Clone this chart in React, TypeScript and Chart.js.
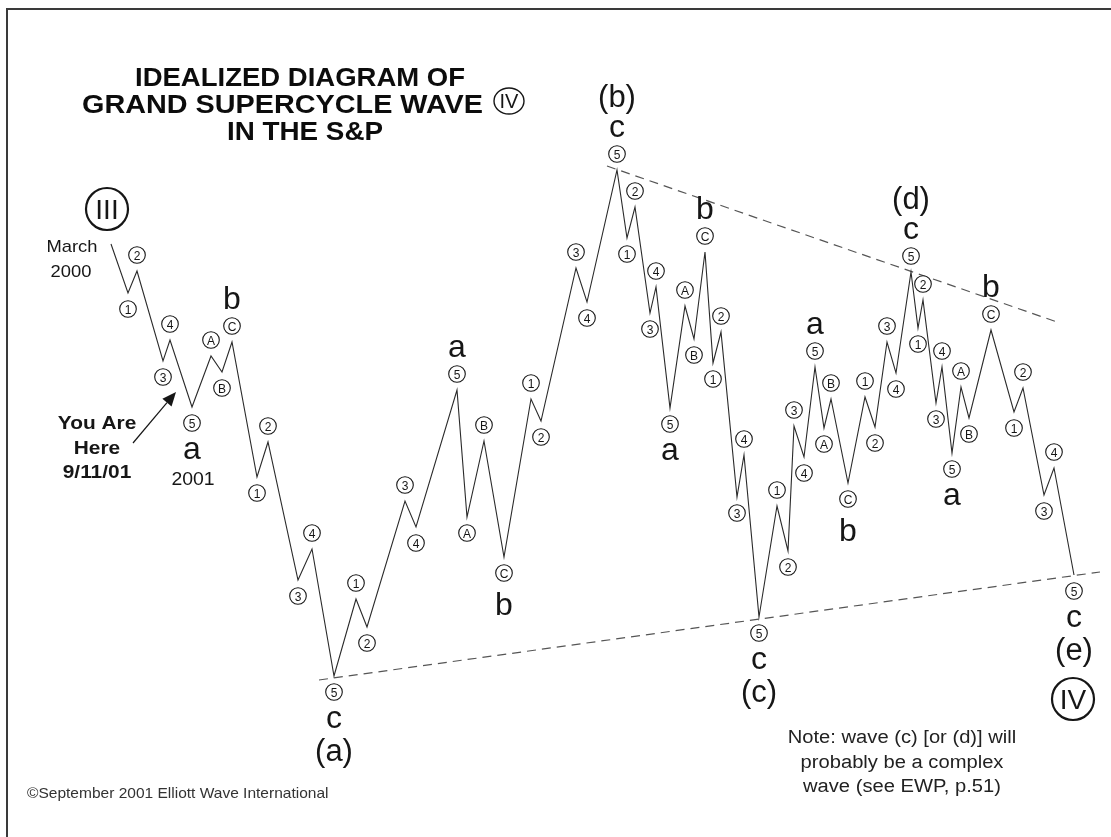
import React, { useEffect, useRef } from "react";
import { Chart, registerables } from "chart.js";

Chart.register(...registerables);

// Idealized wave path: time units (x) and index level (y)
const waveX = [
  11.1, 12.8, 13.7, 16.3, 17.0, 19.2, 21.1, 22.2, 23.2, 25.7, 26.8, 29.8, 31.2, 33.4,
  35.6, 36.7, 40.5, 41.6, 45.7, 46.7, 48.4, 50.4, 53.1, 54.1, 57.6, 58.7, 61.7,
  62.7, 63.5, 65.0, 65.6, 67.0, 68.5, 69.4, 70.5, 71.3, 72.1, 73.7, 74.4, 75.9,
  77.7, 78.8, 79.4, 80.4, 81.5, 82.4, 83.1, 84.8, 86.5, 87.5, 88.7, 89.6, 91.1,
  91.8, 92.3, 93.6, 94.2, 95.2, 96.1, 96.9, 99.1, 101.4, 102.3, 104.4, 105.4, 107.4,
];
const waveY = [
  59.3, 54.4, 56.6, 47.6, 49.7, 43.0, 48.1, 46.5, 49.5, 36.0, 39.5, 25.7, 28.8, 16.1,
  23.8, 21.0, 33.6, 31.0, 44.7, 32.0, 39.6, 28.0, 43.8, 41.6, 56.9, 53.5, 66.7,
  59.9, 63.0, 52.4, 55.0, 42.9, 53.1, 49.8, 58.5, 47.4, 50.5, 34.0, 38.2, 22.0,
  33.1, 28.6, 41.1, 38.0, 47.0, 40.9, 43.8, 35.4, 44.0, 41.0, 49.5, 46.4, 56.5,
  50.9, 53.7, 43.4, 47.0, 38.4, 45.0, 41.9, 50.7, 42.5, 44.9, 34.2, 36.9, 26.2,
];
const minorLabels = [
  "", "1", "2", "3", "4", "5", "A", "B", "C", "1", "2", "3", "4", "5",
  "1", "2", "3", "4", "5", "A", "B", "C", "1", "2", "3", "4", "5",
  "1", "2", "3", "4", "5", "A", "B", "C", "1", "2", "3", "4", "5",
  "1", "2", "3", "4", "5", "A", "B", "C", "1", "2", "3", "4", "5",
  "1", "2", "3", "4", "5", "A", "B", "C", "1", "2", "3", "4", "5",
];
const degreeLabels = [
  "", "", "", "", "", "a", "", "", "b", "", "", "", "", "c",
  "", "", "", "", "a", "", "", "b", "", "", "", "", "c",
  "", "", "", "", "a", "", "", "b", "", "", "", "", "c",
  "", "", "", "", "a", "", "", "b", "", "", "", "", "c",
  "", "", "", "", "a", "", "", "b", "", "", "", "", "c",
];
const primaryLabels = [
  "", "", "", "", "", "", "", "", "", "", "", "", "", "(a)",
  "", "", "", "", "", "", "", "", "", "", "", "", "(b)",
  "", "", "", "", "", "", "", "", "", "", "", "", "(c)",
  "", "", "", "", "", "", "", "", "", "", "", "", "(d)",
  "", "", "", "", "", "", "", "", "", "", "", "", "(e)",
];
const majorStart = "III";
const majorEnd = "IV";

// Trendlines of the triangle
const upperTrendX = [60.7, 106.0];
const upperTrendY = [67.1, 51.4];
const lowerTrendX = [31.9, 110.0];
const lowerTrendY = [15.7, 26.5];

const titleLines = ["IDEALIZED DIAGRAM OF", "GRAND SUPERCYCLE WAVE", "IN THE S&P"];
const noteLines = ["Note: wave (c) [or (d)] will", "probably be a complex", "wave (see EWP, p.51)"];
const hereLines = ["You Are", "Here", "9/11/01"];
const copyright = "\u00A9September 2001 Elliott Wave International";

const FONT = "'Liberation Sans', Arial, Helvetica, sans-serif";
const NARROW = "'Liberation Sans Narrow', 'Liberation Sans', Arial, sans-serif";
const INK = "#161616";

function stretchText(ctx: CanvasRenderingContext2D, text: string, x: number, base: number, sx: number, font: string, align: CanvasTextAlign) {
  ctx.font = font;
  ctx.save();
  ctx.translate(x, base);
  ctx.scale(sx, 1);
  ctx.textAlign = align;
  ctx.textBaseline = "alphabetic";
  ctx.fillText(text, 0, 0);
  ctx.restore();
}

function fitText(ctx: CanvasRenderingContext2D, text: string, cx: number, base: number, width: number, font: string) {
  ctx.font = font;
  const w = ctx.measureText(text).width;
  stretchText(ctx, text, cx, base, width / w, font, "center");
}

function circled(ctx: CanvasRenderingContext2D, cx: number, cy: number, r: number, text: string, font: string, lw: number) {
  ctx.beginPath();
  ctx.arc(cx, cy, r, 0, Math.PI * 2);
  ctx.fillStyle = "#fff";
  ctx.fill();
  ctx.lineWidth = lw;
  ctx.strokeStyle = INK;
  ctx.stroke();
  ctx.fillStyle = INK;
  ctx.font = font;
  ctx.textAlign = "center";
  ctx.textBaseline = "alphabetic";
  const m = ctx.measureText(text);
  const h = m.actualBoundingBoxAscent - m.actualBoundingBoxDescent;
  ctx.fillText(text, cx, cy + h / 2);
}

const annotate = {
  id: "annotate",
  afterDraw(chart: any) {
    const ctx: CanvasRenderingContext2D = chart.ctx;
    const xs = chart.scales.x;
    const ys = chart.scales.y;
    ctx.save();
    // frame
    ctx.strokeStyle = "#3a3a3a";
    ctx.lineWidth = 2;
    ctx.beginPath();
    ctx.moveTo(7, chart.height + 5);
    ctx.lineTo(7, 9);
    ctx.lineTo(chart.width + 5, 9);
    ctx.stroke();

    const n = waveX.length;
    for (let i = 0; i < n; i++) {
      const px = xs.getPixelForValue(waveX[i]);
      const py = ys.getPixelForValue(waveY[i]);
      const prev = i > 0 ? waveY[i - 1] : -Infinity;
      const next = i < n - 1 ? waveY[i + 1] : -Infinity;
      const peak = waveY[i] > prev && waveY[i] > next || (i === 0 && waveY[i] > next);
      const dir = peak ? -1 : 1;
      if (minorLabels[i]) {
        circled(ctx, px, py + dir * 16, 8.3, minorLabels[i], `12px ${FONT}`, 1.1);
      }
      ctx.fillStyle = INK;
      ctx.textAlign = "center";
      ctx.textBaseline = "alphabetic";
      if (degreeLabels[i]) {
        ctx.font = `32px ${FONT}`;
        const m = ctx.measureText(degreeLabels[i]);
        const base = peak ? py - 33 - m.actualBoundingBoxDescent : py + 35 + m.actualBoundingBoxAscent;
        ctx.fillText(degreeLabels[i], px, base);
      }
      if (primaryLabels[i]) {
        ctx.font = `31px ${FONT}`;
        const m = ctx.measureText(primaryLabels[i]);
        const base = peak ? py - 56 - m.actualBoundingBoxDescent : py + 62 + m.actualBoundingBoxAscent;
        ctx.fillText(primaryLabels[i], px, base);
      }
      if (i === 0) {
        circled(ctx, px - 4, py - 35, 21, majorStart, `28px ${NARROW}`, 2.2);
        ctx.fillStyle = INK;
        stretchText(ctx, "March", px - 39, py + 8, 1.08, `17px ${FONT}`, "center");
        stretchText(ctx, "2000", px - 40, py + 33, 1.08, `17px ${FONT}`, "center");
      }
      if (i === n - 1) {
        circled(ctx, px - 1, py + 124, 21, majorEnd, `28px ${NARROW}`, 2.2);
      }
      if (i === 5) {
        ctx.fillStyle = INK;
        stretchText(ctx, "2001", px + 1, py + 78, 1.08, `18px ${FONT}`, "center");
      }
    }

    // title
    ctx.fillStyle = "#0c0c0c";
    fitText(ctx, titleLines[0], 300, 86, 330, `bold 26px ${FONT}`);
    fitText(ctx, titleLines[1], 282.5, 113, 401, `bold 26px ${FONT}`);
    fitText(ctx, titleLines[2], 305, 140, 156, `bold 26px ${FONT}`);
    ctx.beginPath();
    ctx.ellipse(509, 101, 15, 13, 0, 0, Math.PI * 2);
    ctx.lineWidth = 1.4;
    ctx.strokeStyle = INK;
    ctx.stroke();
    ctx.fillStyle = INK;
    ctx.font = `20px ${NARROW}`;
    ctx.textAlign = "center";
    ctx.fillText("IV", 509, 108);

    // You are here
    ctx.fillStyle = INK;
    stretchText(ctx, hereLines[0], 97, 429, 1.16, `bold 18px ${FONT}`, "center");
    stretchText(ctx, hereLines[1], 97, 454, 1.16, `bold 18px ${FONT}`, "center");
    stretchText(ctx, hereLines[2], 97, 478, 1.16, `bold 18px ${FONT}`, "center");
    const tx = 133, ty = 443, hx = 176, hy = 392;
    const ang = Math.atan2(hy - ty, hx - tx);
    const hl = 14, hw = 6;
    const bx = hx - hl * Math.cos(ang), by = hy - hl * Math.sin(ang);
    ctx.strokeStyle = INK;
    ctx.beginPath();
    ctx.moveTo(tx, ty);
    ctx.lineTo(bx, by);
    ctx.lineWidth = 1.2;
    ctx.stroke();
    ctx.beginPath();
    ctx.moveTo(hx, hy);
    ctx.lineTo(bx + hw * Math.sin(ang), by - hw * Math.cos(ang));
    ctx.lineTo(bx - hw * Math.sin(ang), by + hw * Math.cos(ang));
    ctx.closePath();
    ctx.fill();

    // note
    ctx.fillStyle = "#222";
    stretchText(ctx, noteLines[0], 902, 743, 1.12, `18px ${FONT}`, "center");
    stretchText(ctx, noteLines[1], 902, 768, 1.12, `18px ${FONT}`, "center");
    stretchText(ctx, noteLines[2], 902, 792, 1.12, `18px ${FONT}`, "center");

    // copyright
    ctx.fillStyle = "#333";
    stretchText(ctx, copyright, 27, 798, 1.07, `14.5px ${FONT}`, "left");
    ctx.restore();
  },
};

export default function App() {
  const ref = useRef<HTMLCanvasElement | null>(null);
  useEffect(() => {
    if (!ref.current) return;
    const pts = waveX.map((x, i) => ({ x, y: waveY[i] }));
    const up = upperTrendX.map((x, i) => ({ x, y: upperTrendY[i] }));
    const lo = lowerTrendX.map((x, i) => ({ x, y: lowerTrendY[i] }));
    const chart = new Chart(ref.current, {
      type: "scatter",
      data: {
        datasets: [
          { data: pts, showLine: true, borderColor: "#2a2a2a", borderWidth: 1.1, pointRadius: 0, tension: 0 },
          { data: up, showLine: true, borderColor: "#555", borderWidth: 1.2, borderDash: [9, 6], pointRadius: 0 },
          { data: lo, showLine: true, borderColor: "#555", borderWidth: 1.2, borderDash: [9, 6], pointRadius: 0 },
        ],
      },
      options: {
        animation: false,
        responsive: true,
        maintainAspectRatio: false,
        layout: { padding: 0 },
        events: [],
        scales: {
          x: { type: "linear", min: 0, max: 111.1, display: false },
          y: { type: "linear", min: 0, max: 83.7, display: false },
        },
        plugins: { legend: { display: false }, tooltip: { enabled: false } },
      },
      plugins: [annotate],
    });
    return () => chart.destroy();
  }, []);
  return (
    <div style={{ position: "absolute", left: 0, top: 0, width: 1111, height: 837, background: "#fff" }}>
      <canvas ref={ref} />
    </div>
  );
}
